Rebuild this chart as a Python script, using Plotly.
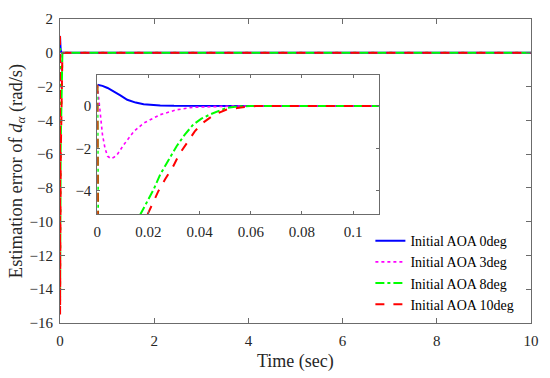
import plotly.graph_objects as go

# ---- data ----
t_blue = [0, 0.002, 0.004, 0.0066, 0.009, 0.0117, 0.015, 0.0181, 0.022, 0.0246, 0.03, 0.04, 0.1, 10]
v_blue = [1.0, 0.95, 0.85, 0.68, 0.5, 0.29, 0.16, 0.085, 0.04, 0.02, 0.005, 0.0, 0.0, 0.0]

t_mag = [0, 0.0008, 0.002, 0.003, 0.004, 0.0053, 0.0065, 0.0078, 0.0104, 0.0143, 0.0181, 0.0246,
         0.031, 0.0375, 0.045, 0.055, 0.1, 10]
v_mag = [1.0, 0.13, -1.35, -2.0, -2.37, -2.48, -2.42, -2.29, -1.82, -1.2, -0.81, -0.41,
         -0.18, -0.06, -0.02, 0.0, 0.0, 0.0]

t_green = [0, 0.0003, 0.0007, 0.0015, 0.003, 0.006, 0.009, 0.012, 0.0145, 0.0169, 0.0194, 0.022,
           0.0246, 0.0278, 0.031, 0.0342, 0.0375, 0.0407, 0.0439, 0.0503, 0.055, 0.06, 0.1, 10]
v_green = [1.0, -10.0, -14.5, -14.7, -13.5, -10.8, -8.6, -6.9, -5.8, -5.1, -4.56, -3.94,
           -3.23, -2.53, -1.9, -1.35, -0.88, -0.6, -0.41, -0.1, -0.02, 0.0, 0.0, 0.0]

t_red = [0, 0.0003, 0.0008, 0.0016, 0.003, 0.006, 0.009, 0.012, 0.015, 0.0175, 0.0197, 0.0218,
         0.0239, 0.0265, 0.0297, 0.032, 0.0349, 0.0381, 0.0407, 0.0452, 0.0503, 0.0561, 0.062, 0.1, 10]
v_red = [1.0, -11.0, -15.4, -15.5, -14.6, -12.0, -9.9, -8.2, -6.8, -5.8, -5.1, -4.56,
         -4.01, -3.46, -2.84, -2.29, -1.75, -1.2, -0.85, -0.45, -0.18, -0.07, 0.0, 0.0, 0.0]

series = [
    ("Initial AOA 0deg", t_blue, v_blue, "#0000FF", "solid", 2),
    ("Initial AOA 3deg", t_mag, v_mag, "#FF00FF", "dot", 1.6),
    ("Initial AOA 8deg", t_green, v_green, "#00FF00", "dashdot", 2),
    ("Initial AOA 10deg", t_red, v_red, "#FF0000", "dash", 2),
]

main_xticks = [0, 2, 4, 6, 8, 10]
main_yticks = [2, 0, -2, -4, -6, -8, -10, -12, -14, -16]
inset_xticks = [0, 0.02, 0.04, 0.06, 0.08, 0.1]
inset_xlabels = ["0", "0.02", "0.04", "0.06", "0.08", "0.1"]
inset_yticks = [0, -2, -4]

FONT = "Liberation Serif, Times New Roman, serif"
AX = "#6b6b6b"
TXT = "#262626"

fig = go.Figure()
for name, t, v, c, d, w in series:
    fig.add_trace(go.Scatter(x=t, y=v, mode="lines", name=name,
                             line=dict(color=c, dash=d, width=w),
                             xaxis="x", yaxis="y"))
for name, t, v, c, d, w in series:
    fig.add_trace(go.Scatter(x=t, y=v, mode="lines", name=name, showlegend=False,
                             line=dict(color=c, dash=d, width=w),
                             xaxis="x2", yaxis="y2"))

axcommon = dict(showline=True, linecolor=AX, linewidth=1, mirror="ticks", ticks="inside",
                tickcolor=AX, showgrid=False, zeroline=False,
                tickfont=dict(family=FONT, size=15, color=TXT))

fig.update_layout(
    width=550, height=378,
    margin=dict(l=60, r=11, t=12, b=55),
    paper_bgcolor="white", plot_bgcolor="white",
    font=dict(family=FONT, size=15, color=TXT),
    xaxis=dict(domain=[0, 1], range=[0, 10], tickvals=main_xticks, ticklen=5,
               ticklabelstandoff=4, **axcommon),
    yaxis=dict(domain=[0, 1], range=[-16, 2], tickvals=main_yticks, ticklen=5,
               title=dict(text="Estimation error of <i>d</i><sub><i>α</i></sub> (rad/s)",
                          font=dict(family=FONT, size=18.5, color=TXT), standoff=2),
               ticklabelstandoff=3, **axcommon),
    xaxis2=dict(domain=[0.0793, 0.6764], range=[0, 0.11], tickvals=inset_xticks,
                ticktext=inset_xlabels, ticklen=3, anchor="y2", ticklabelstandoff=4, **axcommon),
    yaxis2=dict(domain=[0.357, 0.815], range=[-5.12, 1.45], tickvals=inset_yticks,
                ticklen=3, anchor="x2", ticklabelstandoff=2, **axcommon),
    legend=dict(x=0.659, y=0.322, xanchor="left", yanchor="top",
                bgcolor="rgba(255,255,255,0)", borderwidth=0,
                font=dict(family=FONT, size=14, color="black"),
                tracegroupgap=0),
    showlegend=True,
    annotations=[dict(text="Time (sec)", xref="paper", yref="paper", x=0.5, y=-0.128,
                      xanchor="center", yanchor="middle", showarrow=False,
                      font=dict(family=FONT, size=18, color=TXT))],
)

fig.write_html("out.html", post_script="document.body.style.margin='0';",
               config={"displayModeBar": False})
